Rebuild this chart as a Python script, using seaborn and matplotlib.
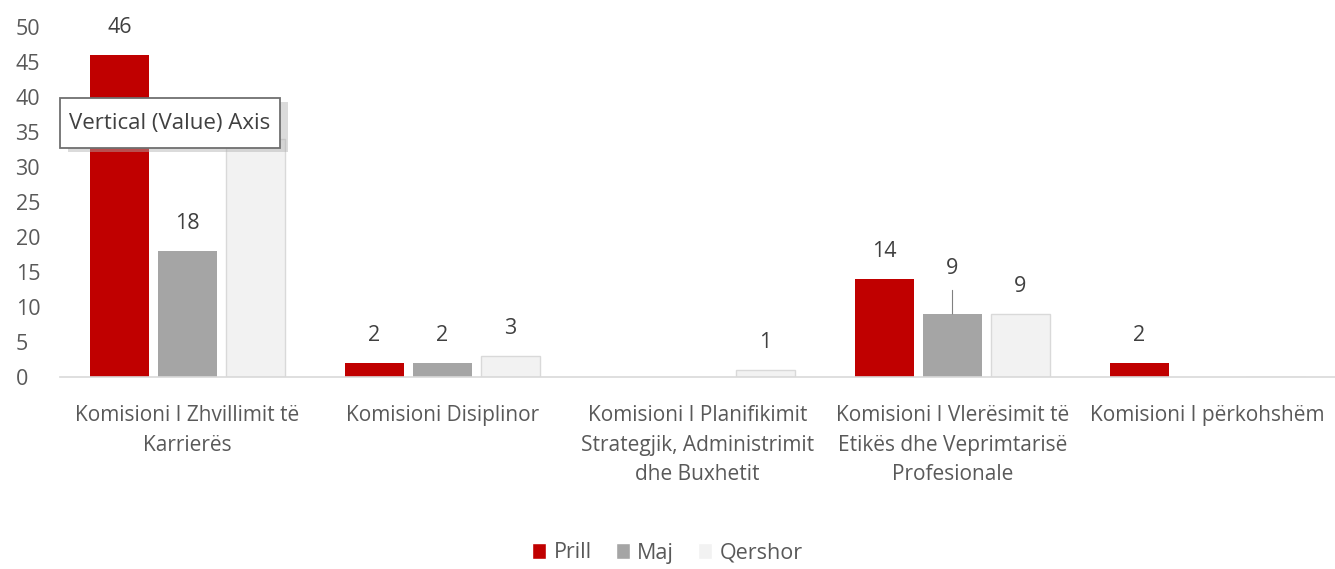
import matplotlib
matplotlib.use("Agg")
import matplotlib.pyplot as plt
from matplotlib.patches import Rectangle
import seaborn as sns
import pandas as pd

categories = [
    "Komisioni I Zhvillimit të\nKarrierës",
    "Komisioni Disiplinor",
    "Komisioni I Planifikimit\nStrategjik, Administrimit\ndhe Buxhetit",
    "Komisioni I Vlerësimit të\nEtikës dhe Veprimtarisë\nProfesionale",
    "Komisioni I përkohshëm",
]
series = ["Prill", "Maj", "Qershor"]
prill = [46, 2, 0, 14, 2]
maj = [18, 2, 0, 9, 0]
qershor = [34, 3, 1, 9, 0]   # first value is hidden behind the tooltip (estimated)
colors = ["#C00000", "#A5A5A5", "#F2F2F2"]
yticks = list(range(0, 51, 5))

rows = []
for s, vals in zip(series, [prill, maj, qershor]):
    for c, v in zip(categories, vals):
        rows.append({"cat": c, "series": s, "value": v})
df = pd.DataFrame(rows)

sns.set_theme(style="white")
plt.rcParams["font.family"] = ["Open Sans", "DejaVu Sans"]

W, H = 1335, 569
fig = plt.figure(figsize=(W / 100, H / 100), dpi=100)
ax = fig.add_axes([60 / W, 1 - 377 / H, 1 - 60 / W, (377 - 27) / H])

sns.barplot(data=df, x="cat", y="value", hue="series", order=categories,
            hue_order=series, palette=colors, width=0.8, gap=0.14,
            ax=ax, legend=True, saturation=1)

for cont, s in zip(ax.containers, series):
    for p in cont.patches:
        if s == "Qershor":
            p.set_edgecolor("#D9D9D9")
            p.set_linewidth(1.0)
        else:
            p.set_linewidth(0)

# value labels (the label of the first Qershor bar is hidden by the tooltip)
for cont, s in zip(ax.containers, series):
    for i, (p, v) in enumerate(zip(cont.patches, df[df.series == s]["value"])):
        if v == 0 or (s == "Qershor" and i == 0):
            continue
        xc = p.get_x() + p.get_width() / 2
        off = 12.5
        if s == "Maj" and v == 9:
            off = 25
            ax.annotate("", xy=(xc, v), xycoords="data",
                        xytext=(0, 17), textcoords="offset points",
                        arrowprops=dict(arrowstyle="-", color="#808080", lw=0.8,
                                        shrinkA=0, shrinkB=0))
        ax.annotate(str(v), (xc, v), xytext=(0, off),
                    textcoords="offset points", ha="center", va="bottom",
                    fontsize=15.5, color="#404040")

ax.set_ylim(0, 50)
ax.set_xlim(-0.5, 4.5)
ax.set_yticks(yticks)
ax.set_xlabel("")
ax.set_ylabel("")
ax.tick_params(axis="y", labelsize=15.5, labelcolor="#595959", length=0, pad=32)
ax.tick_params(axis="x", labelsize=15, labelcolor="#595959", length=0, pad=20)
for lbl in ax.get_yticklabels():
    lbl.set_horizontalalignment("left")
for lbl in ax.get_xticklabels():
    lbl.set_linespacing(1.55)
for sp in ["top", "right", "left"]:
    ax.spines[sp].set_visible(False)
ax.spines["bottom"].set_color("#D9D9D9")
ax.spines["bottom"].set_linewidth(1.2)

leg = ax.legend(loc="center", bbox_to_anchor=(0.5, (H - 553) / H),
                bbox_transform=fig.transFigure, ncol=3, frameon=False,
                fontsize=15.5, handlelength=0.65, handleheight=0.7,
                handletextpad=0.35, columnspacing=1.1)
for t in leg.get_texts():
    t.set_color("#595959")

# tooltip box (as in the screenshot)
bx0, bx1, by0, by1 = 60, 280, 98, 148
fig.add_artist(Rectangle(((bx0 + 8) / W, 1 - (by1 + 4) / H), (bx1 - bx0) / W,
                         (by1 - by0) / H, transform=fig.transFigure,
                         fc="#B0B0B0", ec="none", alpha=0.45, zorder=9))
fig.add_artist(Rectangle((bx0 / W, 1 - by1 / H), (bx1 - bx0) / W,
                         (by1 - by0) / H, transform=fig.transFigure,
                         fc="white", ec="#6F6F6F", lw=1.3, zorder=10))
fig.text((bx0 + bx1) / 2 / W, 1 - (by0 + by1) / 2 / H, "Vertical (Value) Axis",
         ha="center", va="center", fontsize=16, color="#404040", zorder=11)

fig.savefig("out.png", dpi=100)
